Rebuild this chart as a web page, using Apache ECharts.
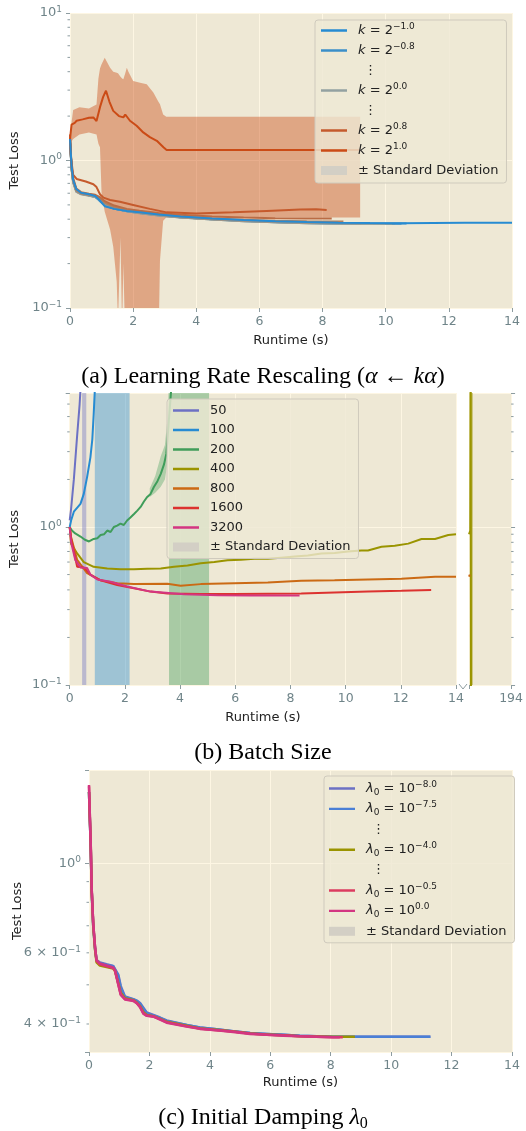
<!DOCTYPE html>
<html><head><meta charset="utf-8">
<script src="https://cdn.jsdelivr.net/npm/echarts@6.0.0/dist/echarts.min.js"></script>
<style>html,body{margin:0;padding:0;background:#fff}#c{width:526px;height:1131px}</style>
</head><body><div id="c"></div>
<script>
// ================= DATA =================
// ---- Panel (a): learning-rate rescaling k = 2^e ----
const aExps = ['−1.0','−0.8','−0.6','−0.4','−0.2','0.0','0.2','0.4','0.6','0.8','1.0'];
const aColors = ['#268bd2','#3b8fc9','#5394be','#6a98b2','#809da7','#93a1a1','#a3917f','#b0805f','#bb6c44','#c55a2c','#cb4b16'];
const aLossM10 = [[0,1.40],[0.05,0.92],[0.1,0.74],[0.2,0.64],[0.35,0.605],[0.6,0.59],[0.8,0.575],[0.95,0.535],[1.1,0.49],[1.4,0.47],[1.8,0.455],[2.2,0.445],[2.8,0.43],[3.5,0.417],[4.5,0.404],[5.5,0.395],[6.5,0.388],[7.5,0.383],[8.5,0.379],[9.5,0.377],[10.5,0.376],[11.5,0.377],[12.5,0.378],[14,0.378]];
const aLossM08 = [[0,1.38],[0.05,0.9],[0.1,0.73],[0.2,0.63],[0.35,0.6],[0.6,0.585],[0.8,0.57],[0.95,0.53],[1.1,0.495],[1.4,0.47],[1.8,0.455],[2.2,0.443],[2.8,0.428],[3.5,0.415],[4.5,0.402],[5.5,0.392],[6.5,0.385],[7.5,0.38],[8.5,0.377],[9.5,0.375],[10.66,0.374]];
const aLossM06 = [[0,1.36],[0.05,0.89],[0.1,0.72],[0.2,0.625],[0.35,0.598],[0.6,0.582],[0.8,0.568],[0.95,0.535],[1.1,0.5],[1.4,0.472],[1.8,0.454],[2.2,0.442],[2.8,0.427],[3.5,0.413],[4.5,0.4],[5.5,0.39],[6.5,0.383],[7.5,0.378],[8.5,0.375],[9.5,0.373],[10.5,0.372]];
const aLossM04 = [[0,1.35],[0.05,0.88],[0.1,0.72],[0.2,0.62],[0.35,0.595],[0.6,0.58],[0.8,0.566],[0.95,0.537],[1.1,0.502],[1.4,0.473],[1.8,0.452],[2.2,0.44],[2.8,0.425],[3.5,0.412],[4.5,0.399],[5.5,0.389],[6.5,0.382],[7.5,0.377],[8.5,0.374],[9.5,0.372],[10.3,0.371]];
const aLossM02 = [[0,1.34],[0.05,0.87],[0.1,0.71],[0.2,0.615],[0.35,0.592],[0.6,0.578],[0.8,0.565],[0.95,0.54],[1.1,0.505],[1.4,0.474],[1.8,0.452],[2.2,0.439],[2.8,0.424],[3.5,0.411],[4.5,0.398],[5.5,0.388],[6.5,0.381],[7.5,0.376],[8.5,0.373],[9.5,0.371],[10.2,0.371]];
const aLoss00 = [[0,1.33],[0.05,0.87],[0.1,0.71],[0.2,0.612],[0.35,0.59],[0.6,0.577],[0.8,0.566],[0.95,0.545],[1.1,0.508],[1.4,0.476],[1.8,0.453],[2.2,0.44],[2.8,0.424],[3.5,0.411],[4.5,0.398],[5.5,0.388],[6.5,0.381],[7.5,0.376],[8.5,0.373],[9.5,0.371],[10.0,0.371]];
const aLossP02 = [[0,1.35],[0.05,0.88],[0.1,0.72],[0.2,0.62],[0.35,0.595],[0.6,0.582],[0.8,0.572],[0.95,0.55],[1.1,0.512],[1.4,0.48],[1.8,0.457],[2.2,0.443],[2.8,0.427],[3.5,0.413],[4.5,0.4],[5.5,0.39],[6.5,0.383],[7.5,0.379],[8.5,0.377],[9.2,0.376]];
const aLossP04 = [[0,1.38],[0.05,0.9],[0.1,0.74],[0.2,0.63],[0.35,0.6],[0.6,0.588],[0.8,0.578],[0.95,0.556],[1.1,0.518],[1.4,0.485],[1.8,0.462],[2.2,0.448],[2.8,0.432],[3.5,0.418],[4.5,0.405],[5.5,0.396],[6.5,0.39],[7.5,0.387],[8.66,0.386]];
const aLossP06 = [[0,1.42],[0.05,0.93],[0.1,0.76],[0.2,0.645],[0.35,0.61],[0.6,0.595],[0.8,0.585],[0.95,0.565],[1.1,0.53],[1.4,0.495],[1.8,0.47],[2.2,0.456],[2.8,0.44],[3.5,0.428],[4.5,0.417],[5.5,0.41],[6.5,0.406],[7.5,0.405],[8.29,0.405]];
const aLossP08 = [[0,1.5],[0.03,1.05],[0.1,0.8],[0.21,0.75],[0.5,0.72],[0.74,0.69],[0.84,0.66],[0.95,0.59],[1.06,0.56],[1.27,0.54],[1.58,0.525],[2.0,0.5],[2.53,0.47],[3.06,0.445],[4.0,0.437],[5.17,0.446],[6.23,0.455],[7.29,0.465],[7.8,0.468],[8.13,0.462]];
const aLossP10 = [[0,1.4],[0.05,1.75],[0.15,1.8],[0.21,1.86],[0.4,1.9],[0.6,1.95],[0.74,1.96],[0.84,1.85],[0.95,2.3],[1.05,2.7],[1.14,2.97],[1.25,2.5],[1.37,2.17],[1.55,2.0],[1.69,1.96],[1.75,2.05],[1.9,1.86],[2.11,1.72],[2.32,1.55],[2.53,1.44],[2.75,1.36],[2.96,1.23],[3.06,1.18],[4,1.18],[5,1.18],[6,1.18],[7,1.18],[8,1.18],[9.19,1.18]];
const aLosses = [aLossM10,aLossM08,aLossM06,aLossM04,aLossM02,aLoss00,aLossP02,aLossP04,aLossP06,aLossP08,aLossP10];
// std band of k = 2^1.0
const aBandT  = [0,0.1,0.3,0.6,0.84,0.9,0.95,1.0,1.1,1.27,1.37,1.48,1.52,1.6,1.65,1.69,1.75,1.8,1.85,2.0,2.22,2.43,2.64,2.8,2.85,2.95,3.05,9.19];
const aBandHi = [1.5,2.2,2.3,2.25,2.4,3.6,4.2,4.5,4.97,4.26,4.0,3.94,3.9,3.7,3.6,3.55,3.9,4.26,4.0,3.46,3.37,3.29,2.89,2.5,2.41,2.05,1.98,1.98];
const aBandLo = [1.3,1.4,1.5,1.55,1.5,1.3,1.23,0.6,0.45,0.34,0.26,0.15,0.08,0.3,0.07,0.2,0.06,0.05,0.05,0.05,0.05,0.05,0.05,0.05,0.21,0.39,0.41,0.41];
const aLegendExps = ['−1.0','−0.8','dots1','0.0','dots2','0.8','1.0','std'];

// ---- Panel (b): batch size ----
const bSizes = ['50','100','200','400','800','1600','3200'];
const bColors = ['#6c71c4','#268bd2','#3f9d5a','#9a9400','#cb6a14','#dc322f','#d33682'];
const bLoss50 = [[0,1.1],[0.05,1.3],[0.15,2.0],[0.27,3.8],[0.36,6.0],[0.42,9.0]];
const bLoss100 = [[0,1.0],[0.05,1.1],[0.15,1.25],[0.39,1.4],[0.51,1.62],[0.63,2.07],[0.75,2.76],[0.82,3.6],[0.87,5.2],[0.92,8.0]];
const bLoss200 = [[0,1.0],[0.08,0.95],[0.2,0.91],[0.39,0.87],[0.55,0.83],[0.7,0.81],[0.87,0.84],[1.0,0.85],[1.12,0.89],[1.25,0.9],[1.36,0.95],[1.48,0.93],[1.6,1.0],[1.72,1.02],[1.84,1.05],[1.96,1.03],[2.08,1.1],[2.2,1.15],[2.33,1.21],[2.45,1.27],[2.57,1.34],[2.69,1.45],[2.81,1.55],[2.93,1.62],[3.05,1.79],[3.18,1.95],[3.3,2.17],[3.42,2.5],[3.5,2.9],[3.54,3.5],[3.6,4.9],[3.68,7.5]];
const bLoss400 = [[0,1.0],[0.05,0.785],[0.27,0.68],[0.51,0.6],[0.87,0.56],[1.36,0.546],[1.84,0.54],[2.33,0.54],[2.81,0.545],[3.3,0.546],[3.78,0.56],[4.27,0.57],[4.75,0.59],[5.24,0.6],[5.72,0.615],[6.2,0.62],[6.69,0.63],[7.18,0.63],[7.66,0.64],[8.15,0.65],[8.63,0.66],[9.12,0.68],[9.6,0.685],[10.08,0.7],[10.57,0.71],[10.81,0.71],[11.3,0.75],[11.78,0.76],[12.27,0.785],[12.75,0.84],[13.24,0.84],[13.72,0.89],[14,0.9]];
const bLoss800 = [[0,1.0],[0.05,0.86],[0.27,0.62],[0.63,0.51],[1.12,0.46],[1.72,0.44],[2.33,0.435],[3.54,0.437],[4.02,0.425],[4.75,0.435],[5.96,0.44],[7.18,0.445],[8.39,0.457],[9.6,0.46],[10.81,0.465],[12.02,0.47],[13.24,0.485],[14,0.485]];
const bLoss1600 = [[0,1.0],[0.05,0.85],[0.27,0.56],[0.51,0.555],[0.75,0.5],[1.12,0.46],[1.72,0.43],[2.33,0.41],[2.93,0.39],[3.54,0.38],[4.75,0.377],[5.96,0.376],[7.18,0.378],[8.39,0.38],[9.6,0.385],[10.81,0.39],[12.02,0.395],[13.1,0.4]];
const bLoss3200 = [[0,1.0],[0.05,0.8],[0.2,0.62],[0.39,0.555],[0.63,0.55],[0.75,0.5],[1.0,0.465],[1.48,0.45],[2.08,0.42],[2.93,0.39],[4.15,0.375],[5.36,0.37],[6.57,0.368],[8.33,0.368]];
const bLosses = [bLoss50,bLoss100,bLoss200,bLoss400,bLoss800,bLoss1600,bLoss3200];
// broken-axis tail (runtime near 194 s)
const bTail400 = [[193.0,0.9],[193.03,0.95],[193.04,20],[193.05,0.01]];
const bTail800 = [[193.0,0.485],[193.02,0.5]];
// std bands
const bBand50T = [0.45,0.6],  bBand50Lo = [0.01,0.01],  bBand50Hi = [100,100];
const bBand100T = [0.91,2.17], bBand100Lo = [0.01,0.01], bBand100Hi = [100,100];
const bBand200T = [3.6,5.05],  bBand200Lo = [0.01,0.01], bBand200Hi = [100,100];
const bBand200nT = [2.9,3.1,3.3,3.45,3.55,3.6], bBand200nLo = [1.55,1.65,1.8,2.0,2.6,3.5], bBand200nHi = [1.75,2.1,2.8,3.3,5.0,9.0];
const bBand400tT = [193.02,193.09], bBand400tLo = [0.01,0.01], bBand400tHi = [100,100];
const bTailTickLabels = [194];

// ---- Panel (c): initial damping ----
const cExps = ['−8.0','−7.5','−4.0','−0.5','0.0'];
const cColors = ['#6c71c4','#4a7fd6','#9a9400','#dc3c60','#d33682'];
const cTime = [0,0.03,0.055,0.09,0.14,0.2,0.25,0.36,0.58,0.8,0.86,0.97,1.05,1.19,1.47,1.58,1.69,1.8,1.91,2.13,2.35,2.57,3.23,3.67,4.22,4.77,5.33,5.88,6.43,6.98,8.08];
const cLossM80 = [1.5,1.27,1.11,0.85,0.7,0.615,0.576,0.568,0.562,0.557,0.552,0.53,0.497,0.468,0.461,0.457,0.451,0.439,0.427,0.421,0.415,0.408,0.398,0.392,0.388,0.384,0.38,0.378,0.376,0.374,0.372];
const cLossM75 = [1.5,1.27,1.11,0.85,0.7,0.615,0.575,0.566,0.56,0.556,0.55,0.525,0.492,0.466,0.46,0.456,0.449,0.436,0.425,0.42,0.414,0.407,0.398,0.392,0.388,0.384,0.38,0.378,0.376,0.374,0.372];
const cLossM40 = [1.5,1.27,1.12,0.85,0.7,0.61,0.568,0.558,0.553,0.549,0.541,0.505,0.478,0.463,0.458,0.452,0.443,0.428,0.421,0.418,0.412,0.405,0.396,0.39,0.387,0.383,0.379,0.377,0.375,0.373,0.372];
const cLossM05 = [1.55,1.29,1.13,0.86,0.71,0.62,0.573,0.562,0.556,0.55,0.542,0.502,0.474,0.461,0.457,0.451,0.441,0.425,0.42,0.418,0.411,0.404,0.395,0.39,0.386,0.383,0.379,0.376,0.375,0.373,0.371];
const cLoss00 = [1.56,1.3,1.14,0.86,0.71,0.62,0.575,0.565,0.558,0.552,0.543,0.5,0.472,0.46,0.456,0.45,0.44,0.424,0.419,0.417,0.41,0.403,0.394,0.389,0.386,0.382,0.378,0.376,0.374,0.373,0.371];
const cEndM80 = [[9.18,0.372],[11.3,0.372]];
const cEndM75 = [[9.18,0.372],[11.3,0.372]];
const cEndM40 = [[8.8,0.372]];
const cEndM05 = [[8.4,0.371]];
const cEnd00 = [[8.3,0.371]];
const cLosses = [cLossM80,cLossM75,cLossM40,cLossM05,cLoss00];
const cEnds = [cEndM80,cEndM75,cEndM40,cEndM05,cEnd00];
const cLegendExps = ['−8.0','−7.5','dots1','−4.0','dots2','−0.5','0.0','std'];
const cExtraTickValues = [0.6, 0.4];
const cExtraTickLabels = ['{b|6 × 10}{sup|−1}', '{b|4 × 10}{sup|−1}'];
const minorA = [0.2,0.3,0.4,0.5,0.6,0.7,0.8,0.9,2,3,4,5,6,7,8,9];
const minorB = [0.2,0.3,0.4,0.5,0.6,0.7,0.8,0.9,2,3,4,5,6,7];
const minorC = [0.4,0.5,0.6,0.7,0.8,0.9];

// ================= STYLE =================
const FONT = 'DejaVu Sans';
const TICK_COLOR = '#6f8489';
const TICKLINE = '#8d9ca0';
const GRIDC = '#fdf6e3';
const NAME_COLOR = '#222';
const STD_COLOR = '#d3cfc5';
const LINE_ICON = 'path://M0,0L0.01,0M0,3.3H26V5.7H0ZM0,9L0.01,9';

function powLabel(v) {
  const e = Math.log10(v), r = Math.round(e);
  if (Math.abs(e - r) > 1e-6) return '';
  return '{b|10}{sup|' + (r < 0 ? '−' + (-r) : r) + '}';
}
const labelRich = {
  b: {fontFamily: FONT, fontSize: 13, color: TICK_COLOR, lineHeight: 16},
  sup: {fontFamily: FONT, fontSize: 9, color: TICK_COLOR, lineHeight: 10, verticalAlign: 'top'}
};
// same look for raw zrender text (graphic component uses fill instead of color)
const graphicRich = {
  b: {fontFamily: FONT, fontSize: 13, fill: TICK_COLOR, lineHeight: 16},
  sup: {fontFamily: FONT, fontSize: 9, fill: TICK_COLOR, lineHeight: 10, verticalAlign: 'top'}
};
function makeX(gridIndex, min, max, interval, name, nameGap, fmt) {
  return {
    type: 'value', gridIndex, min, max, interval,
    name, nameLocation: 'middle', nameGap,
    nameTextStyle: {fontFamily: FONT, fontSize: 13, color: NAME_COLOR},
    axisLine: {show: false},
    axisTick: {show: true, length: 4, lineStyle: {color: TICKLINE}},
    axisLabel: {fontFamily: FONT, fontSize: 12.5, color: TICK_COLOR, margin: 7, formatter: fmt},
    splitLine: {show: true, lineStyle: {color: GRIDC, width: 1}}
  };
}
function makeY(gridIndex, min, max, name, nameGap, position) {
  return {
    type: 'log', logBase: 10, gridIndex, min, max, position: position || 'left',
    name, nameLocation: 'middle', nameGap,
    nameTextStyle: {fontFamily: FONT, fontSize: 13, color: NAME_COLOR},
    axisLine: {show: false},
    axisTick: {show: true, length: 4, lineStyle: {color: TICKLINE}},
    axisLabel: {show: !!name, formatter: powLabel, rich: labelRich, margin: 8},
    splitLine: {show: true, lineStyle: {color: GRIDC, width: 1}}
  };
}
function band(name, xi, yi, t, lo, hi, color) {
  return {
    type: 'custom', name, xAxisIndex: xi, yAxisIndex: yi, z: 1, silent: true,
    data: t.map((x, i) => [x, lo[i], hi[i]]),
    encode: {x: 0, y: [1, 2]},
    renderItem(params, api) {
      if (params.dataIndex !== 0) return null;
      const up = t.map((x, i) => api.coord([x, hi[i]]));
      const dn = t.map((x, i) => api.coord([x, lo[i]])).reverse();
      const cs = params.coordSys;
      return {type: 'group',
        clipPath: {type: 'rect', shape: {x: cs.x, y: cs.y, width: cs.width, height: cs.height}},
        children: [{type: 'polygon', shape: {points: up.concat(dn)}, style: {fill: color}}]};
    }
  };
}
function line(name, xi, yi, data, color, width, z) {
  return {type: 'line', name, xAxisIndex: xi, yAxisIndex: yi, data, symbol: 'none',
    lineStyle: {width, color}, itemStyle: {color}, z: z || 3, animation: false};
}
function dummy(name, color) {
  return {type: 'line', name, data: [], symbol: 'none', xAxisIndex: 0, yAxisIndex: 0,
    itemStyle: {color}, lineStyle: {color, width: 2}};
}
const legendRich = {
  i: {fontFamily: FONT, fontSize: 13, fontStyle: 'italic', color: '#222', lineHeight: 17},
  t: {fontFamily: FONT, fontSize: 13, color: '#222', lineHeight: 17},
  sup: {fontFamily: FONT, fontSize: 9, color: '#222', lineHeight: 11, verticalAlign: 'top'},
  sub: {fontFamily: FONT, fontSize: 9, color: '#222', lineHeight: 11, verticalAlign: 'bottom'},
  d: {fontFamily: FONT, fontSize: 13, color: '#222', lineHeight: 17, padding: [0, 0, 0, 6]}
};
function legendBox(left, top, padding, itemGap, data, formatter) {
  return {
    orient: 'vertical', left, top, padding, itemGap, itemWidth: 26, itemHeight: 9,
    backgroundColor: 'rgba(238,232,213,0.8)', borderColor: '#cfcabd', borderWidth: 1, borderRadius: 3,
    selectedMode: false, data, formatter,
    textStyle: {fontFamily: FONT, fontSize: 13, lineHeight: 17, color: '#222', padding: [0, 0, 0, 6], rich: legendRich}
  };
}

// ================= SERIES =================
const series = [];
series.push(band('aBand', 0, 0, aBandT, aBandLo, aBandHi, 'rgba(203,75,22,0.42)'));
aExps.forEach((e, i) => series.push(line('a' + e, 0, 0, aLosses[i], aColors[i], 2, 3 + (i === 0 ? 1 : 0))));
series.push(dummy('adots1', '#000'), dummy('adots2', '#000'), dummy('astd', STD_COLOR));

series.push(band('bB50', 1, 1, bBand50T, bBand50Lo, bBand50Hi, 'rgba(108,113,196,0.4)'));
series.push(band('bB100', 1, 1, bBand100T, bBand100Lo, bBand100Hi, 'rgba(38,139,210,0.4)'));
series.push(band('bB200', 1, 1, bBand200T, bBand200Lo, bBand200Hi, 'rgba(63,157,90,0.4)'));
series.push(band('bB200n', 1, 1, bBand200nT, bBand200nLo, bBand200nHi, 'rgba(63,157,90,0.35)'));
series.push(band('bB400t', 2, 2, bBand400tT, bBand400tLo, bBand400tHi, 'rgba(154,148,0,0.5)'));
bSizes.forEach((s, i) => series.push(line('b' + s, 1, 1, bLosses[i], bColors[i], 2)));
series.push(line('bt400', 2, 2, bTail400, bColors[3], 2));
series.push(line('bt800', 2, 2, bTail800, bColors[4], 2));
series.push(dummy('bstd', STD_COLOR));

cExps.forEach((e, i) => {
  const pts = cTime.map((t, k) => [t, cLosses[i][k]]).concat(cEnds[i]);
  series.push(line('c' + e, 3, 3, pts, cColors[i], 2.5));
});
series.push(dummy('cdots1', '#000'), dummy('cdots2', '#000'), dummy('cstd', STD_COLOR));

function legendItems(prefix, keys) {
  return keys.map(k => {
    if (k.indexOf('dots') === 0) return {name: prefix + k, icon: 'none'};
    if (k === 'std') return {name: prefix + 'std', icon: 'rect'};
    return {name: prefix + k, icon: LINE_ICON};
  });
}
function fmtA(n) {
  const k = n.slice(1);
  if (k.indexOf('dots') === 0) return '{d|⋮}';
  if (k === 'std') return '{t|± Standard Deviation}';
  return '{i|k}{t| = 2}{sup|' + k + '}';
}
function fmtB(n) {
  const k = n.slice(1);
  if (k === 'std') return '{t|± Standard Deviation}';
  return '{t|' + k + '}';
}
function fmtC(n) {
  const k = n.slice(1);
  if (k.indexOf('dots') === 0) return '{d|⋮}';
  if (k === 'std') return '{t|± Standard Deviation}';
  return '{i|λ}{sub|0}{t| = 10}{sup|' + k + '}';
}

const capRich = {
  t: {fontFamily: 'Liberation Serif', fontSize: 24, color: '#000', fontWeight: 'normal', lineHeight: 28},
  i: {fontFamily: 'Liberation Serif', fontSize: 24, color: '#000', fontWeight: 'normal', fontStyle: 'italic', lineHeight: 28},
  sub: {fontFamily: 'Liberation Serif', fontSize: 16, color: '#000', fontWeight: 'normal', lineHeight: 15, verticalAlign: 'bottom'}
};

const option = {
  animation: false,
  backgroundColor: '#ffffff',
  title: [
    {text: '{t|(a) Learning Rate Rescaling (}{i|α}{t| ← }{i|kα}{t|)}', left: 'center', top: 363, padding: 0, textStyle: {rich: capRich}},
    {text: '{t|(b) Batch Size}', left: 'center', top: 739, padding: 0, textStyle: {rich: capRich}},
    {text: '{t|(c) Initial Damping }{i|λ}{sub|0}', left: 'center', top: 1104, padding: 0, textStyle: {rich: capRich}}
  ],
  grid: [
    {left: 70, top: 13, width: 442, height: 295, show: true, backgroundColor: '#eee8d5', borderWidth: 0},
    {left: 69, top: 393, width: 387, height: 292, show: true, backgroundColor: '#eee8d5', borderWidth: 0},
    {left: 469, top: 393, width: 43, height: 292, show: true, backgroundColor: '#eee8d5', borderWidth: 0},
    {left: 89, top: 770, width: 423, height: 282, show: true, backgroundColor: '#eee8d5', borderWidth: 0}
  ],
  xAxis: [
    makeX(0, 0, 14, 2, 'Runtime (s)', 26),
    makeX(1, 0, 14, 2, 'Runtime (s)', 26),
    makeX(2, 193, 194, 1, '', 0, v => bTailTickLabels.indexOf(v) >= 0 ? String(v) : ''),
    makeX(3, 0, 14, 2, 'Runtime (s)', 24)
  ],
  yAxis: [
    makeY(0, 0.1, 10, 'Test Loss', 45),
    makeY(1, 0.1, 7.05, 'Test Loss', 45),
    makeY(2, 0.1, 7.05, '', 0, 'right'),
    makeY(3, 0.341, 1.70, 'Test Loss', 65)
  ],
  legend: [
    legendBox(315, 20, [2, 8, 4, 6], 3, legendItems('a', aLegendExps), fmtA),
    legendBox(167, 399, [3, 8, 3, 6], 2.5, bSizes.map(s => ({name: 'b' + s, icon: LINE_ICON})).concat([{name: 'bstd', icon: 'rect'}]), fmtB),
    legendBox(324, 776, [4, 8, 3, 5], 3.4, legendItems('c', cLegendExps), fmtC)
  ],
  series
};

const chart = echarts.init(document.getElementById('c'));
chart.setOption(option);

// minor ticks and extra minor-tick labels placed through the axes' own scales
const g = [];
function tick(x, y, dx) {
  g.push({type: 'line', silent: true, z: 10, shape: {x1: x, y1: y, x2: x + dx, y2: y}, style: {stroke: TICKLINE, lineWidth: 1}});
}
const xa = chart.convertToPixel({xAxisIndex: 0}, 0);
minorA.forEach(v => tick(xa, chart.convertToPixel({yAxisIndex: 0}, v), -2.5));
const xb = chart.convertToPixel({xAxisIndex: 1}, 0);
minorB.forEach(v => tick(xb, chart.convertToPixel({yAxisIndex: 1}, v), -2.5));
const xb2 = chart.convertToPixel({xAxisIndex: 2}, 194);
minorB.forEach(v => tick(xb2, chart.convertToPixel({yAxisIndex: 2}, v), 2.5));
const xc = chart.convertToPixel({xAxisIndex: 3}, 0);
minorC.forEach(v => tick(xc, chart.convertToPixel({yAxisIndex: 3}, v), -2.5));
cExtraTickValues.forEach((v, i) => {
  g.push({type: 'text', silent: true, x: xc - 8, y: chart.convertToPixel({yAxisIndex: 3}, v),
    style: {text: cExtraTickLabels[i], rich: graphicRich, fill: TICK_COLOR, align: 'right', verticalAlign: 'middle', textAlign: 'right', textVerticalAlign: 'middle'}});
});
// broken-axis marker
const xBreak = chart.convertToPixel({xAxisIndex: 1}, 14);
const yBreak = chart.convertToPixel({yAxisIndex: 1}, 0.1);
g.push({type: 'polyline', silent: true, shape: {points: [[xBreak + 3, yBreak - 1], [xBreak + 7, yBreak + 4], [xBreak + 11, yBreak - 1]]}, style: {stroke: TICKLINE, lineWidth: 1, fill: null}});
chart.setOption({graphic: {elements: g}});
</script>
</body></html>
